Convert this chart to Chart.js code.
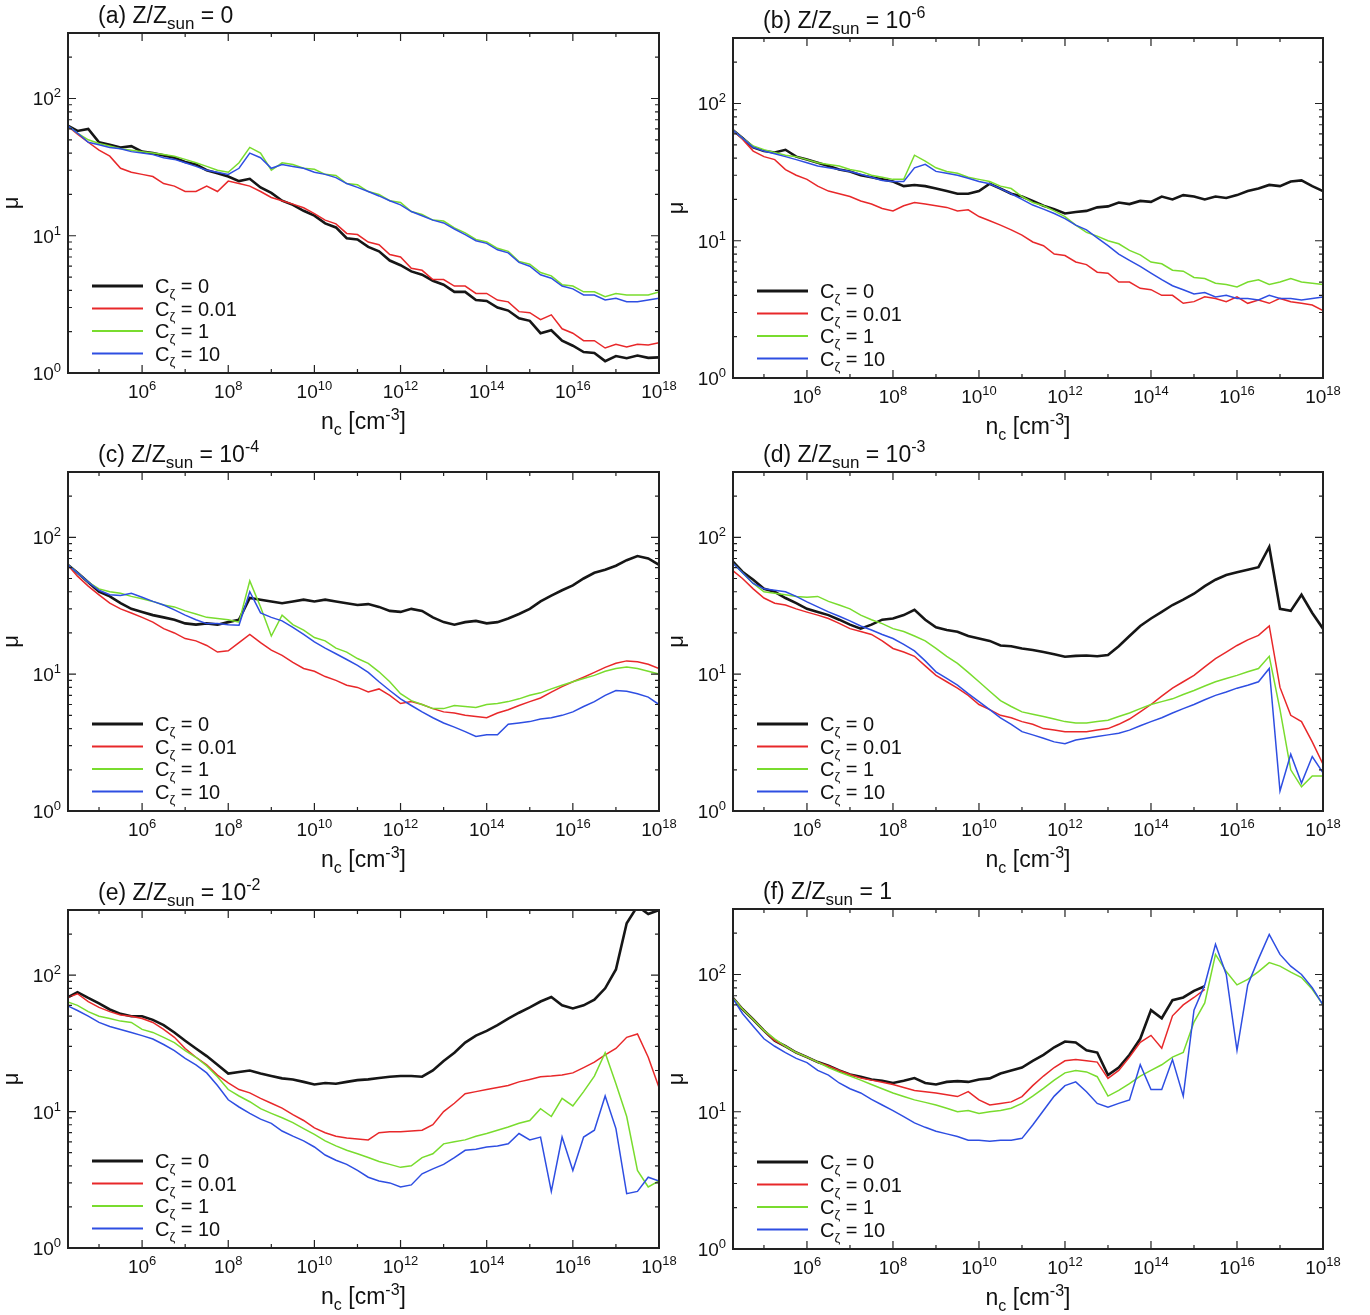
<!DOCTYPE html>
<html lang="en">
<head>
<meta charset="UTF-8" />
<title>mu vs n_c</title>
<script src="https://cdn.jsdelivr.net/npm/chart.js"></script>
<style>
  body { margin: 0; background: #fff; }
  #page { position: relative; width: 1370px; height: 1315px; overflow: hidden; }
  #page canvas { position: absolute; }
</style>
</head>
<body>
<div id="page"></div>
<script>
// log10(n_c) where every curve is sampled
const logN = [
  4.25, 4.5, 4.75, 5.0, 5.25, 5.5, 5.75, 6.0,
  6.25, 6.5, 6.75, 7.0, 7.25, 7.5, 7.75, 8.0,
  8.25, 8.5, 8.75, 9.0, 9.25, 9.5, 9.75, 10.0,
  10.25, 10.5, 10.75, 11.0, 11.25, 11.5, 11.75, 12.0,
  12.25, 12.5, 12.75, 13.0, 13.25, 13.5, 13.75, 14.0,
  14.25, 14.5, 14.75, 15.0, 15.25, 15.5, 15.75, 16.0,
  16.25, 16.5, 16.75, 17.0, 17.25, 17.5, 17.75, 18.0
];

const cLabels = ['0', '0.01', '1', '10'];

// (a) Z/Zsun = 0
const a_c0 = [
  64, 58, 60, 48, 46, 44, 45, 41,
  40, 38.5, 37, 34.5, 33, 30, 28.5, 27,
  25, 26, 22.5, 20.5, 18, 16.8, 15.2, 14,
  12.3, 11.5, 9.6, 9.4, 8.3, 7.7, 6.6, 6.1,
  5.5, 5.2, 4.7, 4.4, 3.9, 3.9, 3.4, 3.35,
  3.0, 2.85, 2.5, 2.4, 1.95, 2.05, 1.72, 1.58,
  1.42, 1.4, 1.22, 1.33, 1.28, 1.34, 1.29, 1.3
];
const a_c001 = [
  64, 55, 48, 42, 38, 31, 29, 28,
  27, 24, 23, 21, 21, 23, 21, 25,
  24, 23, 21, 19, 18, 17, 16, 14.5,
  13, 12.2, 10.4, 10.2, 9.0, 8.6, 7.3, 7.0,
  5.8, 5.6, 4.8, 4.8, 4.3, 4.3, 3.8, 3.8,
  3.4, 3.3, 2.8, 2.75, 2.45, 2.65, 2.1, 1.95,
  1.72, 1.72, 1.52, 1.62, 1.55, 1.62, 1.6, 1.66
];
const a_c1 = [
  64, 56, 50, 47, 45, 43, 42, 41,
  40, 39, 38, 36, 34, 32, 30, 29,
  34, 44, 40, 30, 34, 33, 31, 30.5,
  28, 27.5, 24, 23.5, 21, 20, 18, 17.5,
  15, 14.3, 13, 12.8, 11.4, 10.5, 9.4, 9.0,
  8.1, 7.7, 6.5, 6.2, 5.4, 5.1, 4.4, 4.3,
  3.9, 3.9, 3.6, 3.8, 3.7, 3.7, 3.7, 3.9
];
const a_c10 = [
  64, 56, 48, 46, 44, 43, 41, 40,
  39, 37, 36, 34, 32, 30, 29, 28,
  31, 40, 37, 31, 33, 32, 31, 29,
  28, 26.5, 24, 22.5, 21, 19.5, 18, 16.8,
  15, 14, 13, 12.4, 11.2, 10.2, 9.2, 8.8,
  7.9, 7.5, 6.4, 6.0, 5.2, 4.9, 4.3, 4.1,
  3.7, 3.7, 3.4, 3.5, 3.3, 3.3, 3.4, 3.5
];

// (b) Z/Zsun = 1e-6
const b_c0 = [
  65, 56, 48, 45, 44, 46, 41, 39,
  37, 35, 33, 32, 30, 29, 28, 27,
  25, 25.5, 25, 24, 23, 22, 22, 23,
  26, 24, 22, 21, 19.5, 18, 17, 15.8,
  16.2, 16.5, 17.5, 17.8, 19, 18.5, 19.5, 19.2,
  21, 20, 21.5, 21, 20, 21, 20.5, 21.5,
  23, 24, 25.5, 25, 27, 27.5, 25, 23
];
const b_c001 = [
  65, 55, 45, 41, 39, 33, 30, 28,
  25, 23, 22, 21, 19.5, 18.5, 17.2, 16.5,
  18, 19, 18.5, 18, 17.5, 16.5, 16.8, 15,
  14, 13, 12, 11, 9.8, 9.2, 8.0, 7.8,
  7.0, 6.7, 5.9, 5.8, 5.0, 5.0, 4.5, 4.4,
  4.0, 4.0, 3.5, 3.6, 3.9, 3.8, 3.6, 3.9,
  3.5, 3.7, 3.5, 3.8, 3.6, 3.5, 3.4, 3.1
];
const b_c1 = [
  65, 56, 49, 46, 44, 42, 41, 39,
  37, 36, 35, 33, 32, 30, 29, 28,
  28, 42, 38, 34, 32, 31, 29, 28,
  27, 25, 24, 21, 19, 18, 16.5, 15,
  13, 11.5, 10.8, 10, 9.5, 8.5, 7.9, 7.0,
  6.8, 6.1, 6.0, 5.4, 5.3, 4.9, 4.8, 4.6,
  5.0, 5.2, 4.8, 5.0, 5.3, 5.0, 4.9, 4.8
];
const b_c10 = [
  65, 56, 48, 45, 43, 41, 39, 37,
  35, 34, 33, 32, 30.5, 29, 27.5, 27,
  27, 34, 36, 32, 31, 30, 28.5, 27,
  26, 24, 22, 20, 18.2, 17, 15.8, 14.5,
  13, 12, 10.5, 9.2, 8.0, 7.2, 6.5, 5.8,
  5.2, 4.7, 4.4, 4.1, 4.2, 3.9, 4.0, 3.8,
  3.8, 3.7, 4.0, 3.8, 3.8, 3.7, 3.8, 3.9
];

// (c) Z/Zsun = 1e-4
const c_c0 = [
  64, 55, 47, 40, 37, 33, 30, 28.5,
  27, 26, 25, 23.5, 23, 23.5, 23, 24,
  25, 36, 35, 34, 33, 34, 35, 34,
  35, 34, 33, 32, 32.5, 31, 29, 28.5,
  30, 29, 26, 24, 23, 24, 24.5, 23.5,
  24, 25.5, 27.5, 30, 34, 37.5, 41, 44.5,
  50, 55, 58, 62, 68, 73, 70, 63
];
const c_c001 = [
  64, 52, 44, 38, 33, 30, 28, 26,
  24, 21.5, 20, 18.2, 17.5, 16.2, 14.5, 14.8,
  17, 19.5, 17, 15, 13.7, 12.2, 11, 10.5,
  9.6, 9.0, 8.3, 8.0, 7.4, 7.8, 7.0, 6.1,
  6.3, 6.0, 5.6, 5.3, 5.2, 5.0, 4.9, 4.8,
  5.2, 5.5, 5.9, 6.3, 6.7, 7.4, 8.1, 8.8,
  9.5, 10.3, 11.2, 12, 12.5, 12.3, 11.8, 11
];
const c_c1 = [
  64, 55, 47, 42, 40, 39, 37, 35.5,
  34, 32, 31, 29, 27.5, 26, 25.5, 25,
  24, 48, 31, 19, 27, 23, 21, 18.5,
  17.5, 15.5, 14.5, 13, 12, 10.4, 8.8, 7.2,
  6.4, 6.0, 5.6, 5.6, 5.9, 5.8, 5.7, 6.0,
  6.1, 6.3, 6.6, 7.0, 7.3, 7.8, 8.3, 8.8,
  9.3, 9.8, 10.5, 11, 11.3, 11, 10.5, 10
];
const c_c10 = [
  64, 55, 47, 41, 38, 37.6, 39, 36.5,
  34, 32, 29.5, 27, 25, 23.4, 23.4, 23,
  22.8, 40, 28, 26, 24.5, 22, 19.5, 17.2,
  15.5, 14.1, 12.8, 11.6, 10.3, 8.8, 7.6, 6.6,
  5.9, 5.3, 4.8, 4.4, 4.1, 3.8, 3.5, 3.6,
  3.6, 4.3, 4.4, 4.5, 4.7, 4.8, 5.0, 5.3,
  5.8, 6.3, 7.0, 7.6, 7.5, 7.2, 6.8, 6.0
];

// (d) Z/Zsun = 1e-3
const d_c0 = [
  68, 56, 49, 42, 40, 36, 33, 30,
  28.5, 27, 25, 23, 21.5, 23, 25, 25.5,
  27, 29.5, 25, 22, 21, 20.4, 19, 18.2,
  17.5, 16.2, 16, 15.4, 15, 14.5, 14, 13.4,
  13.6, 13.7, 13.5, 13.8, 16, 19, 22.5, 25.5,
  28.5, 32, 35, 38.7, 44, 49, 53, 55.6,
  58, 60.5, 85, 30, 29, 38, 28, 21.5
];
const d_c001 = [
  58, 50, 42, 36, 33, 32, 30, 28.4,
  27, 25.5, 23.5, 21.5, 20.5, 19.5, 17.5, 15.4,
  14.5, 13.5, 11.5, 9.8, 8.8, 7.9, 7.0, 6.0,
  5.5, 5.0, 4.8, 4.5, 4.3, 4.0, 3.9, 3.8,
  3.8, 3.8, 3.9, 4.0, 4.3, 4.7, 5.3, 6.0,
  6.9, 7.9, 8.8, 9.8, 11.3, 13, 14.5, 16.2,
  17.8, 19.2, 22.5, 8, 5.0, 4.5, 3.2, 2.2
];
const d_c1 = [
  66, 55, 46, 40, 39, 38, 37, 36.5,
  37, 34, 32, 30, 27, 25, 23.4, 21.5,
  20.5, 19, 17.5, 15.4, 13.5, 12, 10.3, 8.8,
  7.5, 6.4, 5.8, 5.3, 5.1, 4.9, 4.7, 4.5,
  4.4, 4.4, 4.5, 4.6, 4.9, 5.2, 5.6, 6.0,
  6.3, 6.6, 7.1, 7.6, 8.2, 8.8, 9.3, 9.8,
  10.4, 11, 13.5, 5.5, 2.0, 1.5, 1.8, 1.8
];
const d_c10 = [
  66, 55, 46, 42, 41, 40, 37, 33.7,
  31, 28.5, 26.5, 24.5, 22.5, 21, 19.5, 18.2,
  16.5, 14.8, 12.5, 10.4, 9.3, 8.3, 7.2, 6.3,
  5.5, 4.8, 4.3, 3.8, 3.6, 3.4, 3.2, 3.1,
  3.3, 3.4, 3.5, 3.6, 3.7, 3.9, 4.2, 4.5,
  4.8, 5.2, 5.6, 6.0, 6.5, 7.0, 7.4, 7.9,
  8.3, 8.8, 11, 1.4, 2.6, 1.6, 2.5, 1.9
];

// (e) Z/Zsun = 1e-2
const e_c0 = [
  68, 75, 68, 62, 56, 52, 50, 50,
  47, 43, 38, 33, 29, 25.5, 22, 19,
  19.5, 20, 19, 18.2, 17.5, 17.2, 16.5, 15.8,
  16.2, 16, 16.5, 17, 17.2, 17.6, 18, 18.2,
  18.2, 18, 20, 23.5, 27, 32, 36, 39,
  43, 48, 53, 58, 64, 69, 60, 57,
  60, 66, 80, 110, 240, 320, 280, 300
];
const e_c001 = [
  68, 73, 64, 58, 54, 51, 50, 48,
  45, 40, 35, 29, 25, 22, 18.5, 16.2,
  14.5, 13.7, 12.5, 11.5, 10.6, 9.5, 8.6, 7.6,
  7.0, 6.6, 6.4, 6.3, 6.2, 7.0, 7.1, 7.1,
  7.2, 7.3, 8.0, 10, 11.5, 13.5, 14, 14.5,
  15, 15.5, 16.5, 17.2, 18, 18.2, 18.5, 19.2,
  21, 23, 26, 29, 35, 37, 25, 15
];
const e_c1 = [
  64, 60, 54, 50, 48, 46, 45, 40,
  38, 35, 32, 28, 25, 21.6, 18, 14.5,
  13, 11.8, 10.5, 9.7, 9.0, 8.3, 7.5, 6.8,
  6.1, 5.6, 5.2, 4.9, 4.6, 4.3, 4.1, 3.9,
  4.0, 4.6, 4.9, 5.8, 6.0, 6.2, 6.6, 6.9,
  7.3, 7.7, 8.2, 8.6, 10.5, 9.2, 12.5, 11,
  14, 18.2, 27, 16, 9.2, 3.7, 2.8, 3.1
];
const e_c10 = [
  60, 55, 50, 45, 42, 40, 38, 36,
  34, 31, 28, 24.5, 22, 19.2, 15.5, 12.2,
  10.8, 9.7, 8.8, 8.2, 7.2, 6.6, 6.1, 5.5,
  4.8, 4.4, 4.1, 3.7, 3.3, 3.1, 3.0, 2.8,
  2.9, 3.5, 3.8, 4.1, 4.6, 5.2, 5.3, 5.5,
  5.6, 5.8, 6.9, 6.2, 6.5, 2.6, 6.5, 3.7,
  6.5, 7.3, 13, 7.5, 2.5, 2.6, 3.3, 3.1
];

// (f) Z/Zsun = 1
const f_c0 = [
  69, 56, 47, 39, 33, 30, 27, 25,
  23, 21.6, 20, 18.7, 18, 17.2, 16.8, 16.2,
  16.8, 17.6, 16.2, 15.8, 16.5, 16.7, 16.5, 17.2,
  17.5, 19, 20, 21, 23.5, 26, 29.5, 32.5,
  32, 28, 27, 18.5, 21, 26, 34, 55,
  48, 65, 68, 76, 82, null, null, null,
  null, null, null, null, null, null, null, null
];
const f_c001 = [
  69, 56, 47, 39, 33, 30, 27, 25,
  23, 21.6, 20, 18.7, 17.6, 17, 16.4, 15.8,
  15, 14.3, 14, 13.7, 13.3, 12.9, 14, 12.2,
  11.2, 11.5, 11.8, 12.9, 15.5, 18.2, 21, 23.5,
  24, 23.5, 23, 17.5, 20, 25, 32, 36,
  29, 50, 60, 68, 78, null, null, null,
  null, null, null, null, null, null, null, null
];
const f_c1 = [
  69, 56, 47, 39, 34, 30, 27, 25,
  23, 21, 19.5, 18.2, 17, 15.8, 14.7, 13.7,
  12.9, 12.2, 11.7, 11.2, 10.6, 10, 10.2, 9.7,
  10, 10.2, 10.6, 11.5, 13, 14.8, 17, 19.2,
  20, 19.5, 18, 13, 14.3, 16, 18.2, 20,
  22, 25, 27, 45, 62, 140, 105, 84,
  92, 105, 122, 115, 104, 95, 78, 60
];
const f_c10 = [
  69, 52, 42, 34, 30, 27, 24.5, 22.8,
  20, 18.5, 16.2, 14.7, 13.7, 12.3, 11.2, 10.2,
  9.2, 8.3, 7.7, 7.2, 6.9, 6.6, 6.2, 6.2,
  6.1, 6.2, 6.2, 6.4, 8.0, 10.2, 13, 15.5,
  16.5, 14, 11.5, 10.8, 11.5, 12.2, 22, 14.5,
  14.5, 24, 13, 55, 84, 166, 100, 28,
  84, 130, 196, 140, 115, 100, 80, 60
];

// axis ranges and ticks
const X_MIN = Math.pow(10, 4.28), X_MAX = 1e18;
const Y_MIN = 1, Y_MAX = 300;
const xTickExp = [5, 6, 7, 8, 9, 10, 11, 12, 13, 14, 15, 16, 17];
const xLabelExp = [6, 8, 10, 12, 14, 16, 18];
const yLabelExp = [0, 1, 2];
const yMinor = [2, 3, 4, 5, 6, 7, 8, 9, 20, 30, 40, 50, 60, 70, 80, 90, 200];

const colors = ['#161616', '#e8282a', '#79dc2e', '#2e4ee2'];
const widths = [2.6, 1.5, 1.5, 1.5];

const panels = [
  { tag: '(a)', z: [' = 0'], series: [a_c0, a_c001, a_c1, a_c10], cell: [0, 0, 690, 440], box: [68, 33, 659, 373] },
  { tag: '(b)', z: [' = 10', '-6'], series: [b_c0, b_c001, b_c1, b_c10], cell: [662, 0, 708, 440], box: [733, 38, 1323, 378] },
  { tag: '(c)', z: [' = 10', '-4'], series: [c_c0, c_c001, c_c1, c_c10], cell: [0, 436, 690, 440], box: [68, 472, 659, 811] },
  { tag: '(d)', z: [' = 10', '-3'], series: [d_c0, d_c001, d_c1, d_c10], cell: [662, 436, 708, 440], box: [733, 472, 1323, 811] },
  { tag: '(e)', z: [' = 10', '-2'], series: [e_c0, e_c001, e_c1, e_c10], cell: [0, 872, 690, 443], box: [68, 910, 659, 1248] },
  { tag: '(f)', z: [' = 1'], series: [f_c0, f_c001, f_c1, f_c10], cell: [662, 872, 708, 443], box: [733, 909, 1323, 1249] }
];

const FONT = '"Liberation Sans", Arial, Helvetica, sans-serif';

// draw a run of text pieces: {t, s (size), dy (shift)}
function textRun(ctx, parts, x, y, align) {
  let w = 0;
  parts.forEach(p => { ctx.font = p.s + 'px ' + FONT; w += ctx.measureText(p.t).width; });
  let cx = align === 'center' ? x - w / 2 : align === 'right' ? x - w : x;
  ctx.textAlign = 'left';
  ctx.textBaseline = 'alphabetic';
  parts.forEach(p => {
    ctx.font = p.s + 'px ' + FONT;
    ctx.fillText(p.t, cx, y + (p.dy || 0));
    cx += ctx.measureText(p.t).width;
  });
}
const pow10 = (e) => [{ t: '10', s: 19 }, { t: String(e), s: 13, dy: -8 }];

const decor = {
  id: 'decor',
  afterDatasetsDraw(chart, args, opts) {
    const ctx = chart.ctx;
    const a = chart.chartArea;
    const xs = chart.scales.x, ys = chart.scales.y;
    ctx.save();
    ctx.strokeStyle = '#222';
    ctx.fillStyle = '#111';

    // inward ticks, mirrored on all four sides
    ctx.lineWidth = 1.2;
    ctx.beginPath();
    xTickExp.forEach(e => {
      const px = xs.getPixelForValue(Math.pow(10, e));
      const len = e % 2 === 0 ? 8 : 4;
      ctx.moveTo(px, a.bottom); ctx.lineTo(px, a.bottom - len);
      ctx.moveTo(px, a.top); ctx.lineTo(px, a.top + len);
    });
    [10, 100].forEach(v => {
      const py = ys.getPixelForValue(v);
      ctx.moveTo(a.left, py); ctx.lineTo(a.left + 8, py);
      ctx.moveTo(a.right, py); ctx.lineTo(a.right - 8, py);
    });
    yMinor.forEach(v => {
      const py = ys.getPixelForValue(v);
      ctx.moveTo(a.left, py); ctx.lineTo(a.left + 4, py);
      ctx.moveTo(a.right, py); ctx.lineTo(a.right - 4, py);
    });
    ctx.stroke();

    // frame
    ctx.lineWidth = 2;
    ctx.strokeRect(a.left, a.top, a.right - a.left, a.bottom - a.top);

    // tick labels
    xLabelExp.forEach(e => {
      textRun(ctx, pow10(e), xs.getPixelForValue(Math.pow(10, e)), a.bottom + 25, 'center');
    });
    yLabelExp.forEach(e => {
      textRun(ctx, pow10(e), a.left - 7, ys.getPixelForValue(Math.pow(10, e)) + 7, 'right');
    });

    // axis titles
    textRun(ctx, [
      { t: 'n', s: 23 }, { t: 'c', s: 16, dy: 6 }, { t: ' [cm', s: 23 },
      { t: '-3', s: 16, dy: -9 }, { t: ']', s: 23 }
    ], (a.left + a.right) / 2, a.bottom + 56, 'center');
    ctx.save();
    ctx.translate(a.left - 50, (a.top + a.bottom) / 2);
    ctx.rotate(-Math.PI / 2);
    textRun(ctx, [{ t: 'μ', s: 22 }], 0, 0, 'center');
    ctx.restore();

    // panel title
    const z = opts.z;
    const title = [{ t: opts.tag + ' Z/Z', s: 23 }, { t: 'sun', s: 17, dy: 6 }, { t: z[0], s: 23 }];
    if (z[1]) title.push({ t: z[1], s: 16, dy: -10 });
    textRun(ctx, title, a.left + 30, a.top - 10, 'left');

    // legend
    cLabels.forEach((c, i) => {
      const y = a.bottom - 87 + 22.5 * i;
      ctx.strokeStyle = colors[i];
      ctx.lineWidth = widths[i] + 0.3;
      ctx.beginPath();
      ctx.moveTo(a.left + 24, y); ctx.lineTo(a.left + 75, y);
      ctx.stroke();
      textRun(ctx, [{ t: 'C', s: 20 }, { t: 'ζ', s: 13, dy: 5 }, { t: ' = ' + c, s: 20 }], a.left + 87, y + 7, 'left');
    });
    ctx.restore();
  }
};

const page = document.getElementById('page');
panels.forEach(p => {
  const [cx, cy, cw, ch] = p.cell;
  const [L, T, R, B] = p.box;
  const canvas = document.createElement('canvas');
  canvas.width = cw;
  canvas.height = ch;
  canvas.style.left = cx + 'px';
  canvas.style.top = cy + 'px';
  canvas.style.width = cw + 'px';
  canvas.style.height = ch + 'px';
  page.appendChild(canvas);

  const datasets = p.series.map((vals, i) => ({
    label: 'C = ' + cLabels[i],
    data: logN.map((e, k) => ({ x: Math.pow(10, e), y: vals[k] })),
    borderColor: colors[i],
    borderWidth: widths[i],
    pointRadius: 0,
    tension: 0,
    spanGaps: false,
    order: 3 - i
  }));

  new Chart(canvas, {
    type: 'line',
    data: { datasets },
    options: {
      responsive: false,
      animation: false,
      events: [],
      layout: { padding: { left: L - cx, top: T - cy, right: cx + cw - R, bottom: cy + ch - B } },
      plugins: {
        legend: { display: false },
        tooltip: { enabled: false },
        decor: { tag: p.tag, z: p.z }
      },
      scales: {
        x: { type: 'logarithmic', min: X_MIN, max: X_MAX, display: false },
        y: { type: 'logarithmic', min: Y_MIN, max: Y_MAX, display: false }
      }
    },
    plugins: [decor]
  });
});
</script>
</body>
</html>
